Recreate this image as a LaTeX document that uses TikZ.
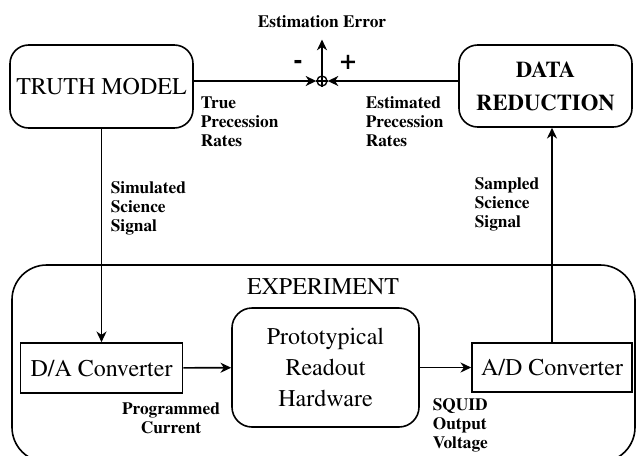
\documentclass[tikz,border=0pt]{standalone}
\usepackage[T1]{fontenc}
\usepackage{mathptmx}
\usetikzlibrary{arrows.meta}

\tikzset{every picture/.style={line width=1.2pt}}
\tikzset{
	blk/.style={draw, rounded corners=14pt, align=center, inner sep=0pt, font=\fontsize{18}{24}\selectfont},
	conv/.style={draw, inner sep=0pt, font=\fontsize{18}{22}\selectfont},
	lbl/.style={inner sep=0pt, align=left, font=\bfseries\fontsize{13}{14.2}\selectfont},
	arr/.style={-{Stealth[length=8pt,width=7.5pt,inset=2.5pt]}},
}

\begin{document}
\begin{tikzpicture}[x=0.75pt,y=0.75pt,yscale=-1,xscale=1]
		\useasboundingbox (0,0) rectangle (637,455);
		\clip (0,0) rectangle (637,455);
		
		%Shape: Rounded Rectangle
		\node [draw, rounded corners=26pt, minimum width=467.25pt, minimum height=147.75pt] (exp) at (323.5,363.5) {};
		\node [font=\fontsize{18}{20}\selectfont, inner sep=0pt] (explbl) at (323,287) {EXPERIMENT};
		%Shape: Rounded Rectangle
		\node [blk, minimum width=137.25pt, minimum height=62.25pt] (truth) at (101.5,86.5) {TRUTH MODEL};
		%Shape: Rounded Rectangle
		\node [blk, font=\bfseries\fontsize{17}{24.75}\selectfont, minimum width=129.75pt, minimum height=61.5pt] (data) at (545.5,86) {DATA\\REDUCTION};
		%Shape: Circle
		\node [draw, circle, inner sep=0pt, minimum size=7.5pt, line width=1pt] (sum) at (322,81) {};
		\draw [line width=1pt] (sum.north) -- (sum.south) (sum.west) -- (sum.east) ;
		%Shape: Rectangle
		\node [conv, minimum width=121.5pt, minimum height=37.5pt] (da) at (101.5,368) {D/A Converter};
		%Shape: Rounded Rectangle
		\node [blk, rounded corners=15pt, font=\fontsize{18}{23}\selectfont, minimum width=140.25pt, minimum height=89.25pt] (prh) at (325.5,367.5) {Prototypical\\Readout\\Hardware};
		%Shape: Rectangle
		\node [conv, minimum width=120pt, minimum height=36.75pt] (ad) at (552,367.5) {A/D Converter};
		
		\node [font=\bfseries\fontsize{13}{15}\selectfont, inner sep=1pt] (err) at (322,22) {Estimation Error};
		\node [font=\bfseries\fontsize{21}{21}\selectfont, inner sep=0pt] (minus) at (298,65) {-};
		\node [font=\bfseries\fontsize{21}{21}\selectfont, inner sep=0pt] (plus) at (348,62) {+};
		
		\draw [arr] (sum -| truth.east) -- (sum.west) ;
		\draw [arr] (sum -| data.west) -- (sum.east) ;
		\draw [arr, shorten >=7pt] (sum.north) -- (err.south) ;
		\draw [arr] (truth.south) -- (da.north) ;
		\draw [arr] (da) -- (prh) ;
		\draw [arr] (prh) -- (ad) ;
		\draw [arr] (ad.north) -- (ad.north |- data.south) ;
		
		\node [lbl, anchor=north west] (tpr) at (200,96) {True\\Precession\\Rates};
		\node [lbl, anchor=north west] (epr) at (365,96) {Estimated\\Precession\\Rates};
		\node [lbl, anchor=north west] (sss) at (110,181) {Simulated\\Science\\Signal};
		\node [lbl, anchor=north west] (samp) at (474,177) {Sampled\\Science\\Signal};
		\node [lbl, align=center, anchor=north] (pc) at (171,402) {Programmed\\Current};
		\node [lbl, anchor=north west] (sov) at (432,398) {SQUID\\Output\\Voltage};
		
\end{tikzpicture}
\end{document}
